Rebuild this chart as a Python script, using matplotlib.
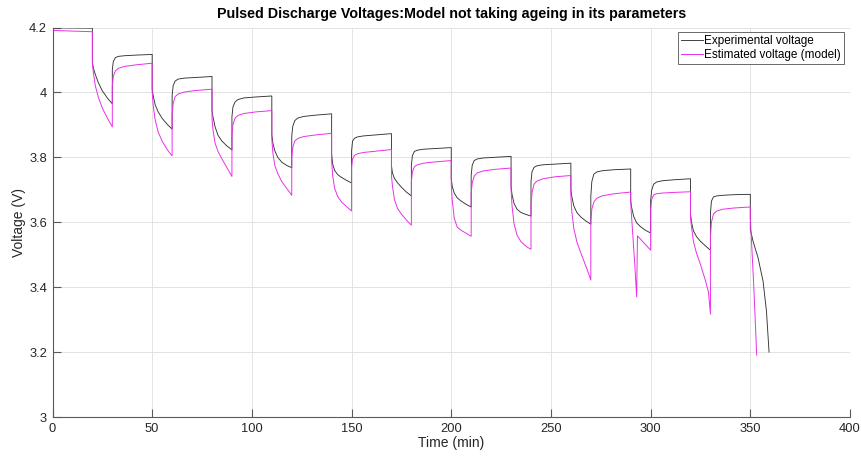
import matplotlib
matplotlib.use("Agg")
import matplotlib.pyplot as plt
from matplotlib.ticker import FuncFormatter

plt.rcParams['font.family'] = ['Liberation Sans', 'DejaVu Sans']

# ---------------- data ----------------
pulse_start = [20, 50, 80, 110, 140, 170, 200, 230, 260, 290, 320, 350]   # min
pulse_len = 10
pulse_off = [0, 0.5, 1.5, 3, 5, 7.5, 9, 10]      # sample times inside a pulse (min)
rest_off = [0, 0.5, 1.5, 3, 6, 12, 20]           # sample times inside a rest (min)

# Experimental voltage
exp_init_t = [0, 20]
exp_init_v = [4.199, 4.198]
exp_pulse_v = [
    [4.093, 4.075, 4.055, 4.030, 4.005, 3.983, 3.972, 3.965],
    [4.010, 3.990, 3.962, 3.940, 3.920, 3.902, 3.893, 3.887],
    [3.945, 3.925, 3.895, 3.868, 3.850, 3.835, 3.828, 3.823],
    [3.870, 3.845, 3.820, 3.800, 3.785, 3.775, 3.771, 3.768],
    [3.810, 3.780, 3.760, 3.747, 3.738, 3.729, 3.724, 3.721],
    [3.775, 3.752, 3.735, 3.722, 3.708, 3.693, 3.686, 3.681],
    [3.735, 3.710, 3.690, 3.675, 3.665, 3.655, 3.650, 3.647],
    [3.710, 3.685, 3.658, 3.640, 3.630, 3.624, 3.621, 3.619],
    [3.700, 3.678, 3.650, 3.630, 3.616, 3.604, 3.598, 3.594],
    [3.665, 3.645, 3.618, 3.598, 3.586, 3.575, 3.570, 3.567],
    [3.625, 3.600, 3.573, 3.556, 3.541, 3.527, 3.519, 3.514],
]
exp_rest_v = [
    [4.070, 4.095, 4.107, 4.111, 4.113, 4.115, 4.117],
    [3.990, 4.020, 4.035, 4.041, 4.044, 4.046, 4.049],
    [3.925, 3.955, 3.970, 3.978, 3.983, 3.986, 3.989],
    [3.865, 3.895, 3.913, 3.921, 3.926, 3.930, 3.934],
    [3.820, 3.850, 3.859, 3.863, 3.866, 3.869, 3.873],
    [3.775, 3.805, 3.818, 3.822, 3.825, 3.827, 3.830],
    [3.745, 3.775, 3.790, 3.795, 3.798, 3.800, 3.803],
    [3.725, 3.755, 3.769, 3.774, 3.777, 3.779, 3.782],
    [3.680, 3.725, 3.748, 3.755, 3.759, 3.762, 3.764],
    [3.665, 3.698, 3.717, 3.724, 3.728, 3.731, 3.734],
    [3.627, 3.665, 3.678, 3.681, 3.683, 3.685, 3.686],
]
exp_last_t = [350, 351.4, 353.9, 356.4, 358.1, 359.4]
exp_last_v = [3.578, 3.541, 3.490, 3.418, 3.326, 3.200]

# Estimated voltage (model)
mod_init_t = [0, 20]
mod_init_v = [4.191, 4.187]
mod_pulse_v = [
    [4.090, 4.060, 4.020, 3.985, 3.952, 3.921, 3.905, 3.894],
    [4.000, 3.960, 3.915, 3.878, 3.850, 3.824, 3.812, 3.805],
    [3.920, 3.885, 3.845, 3.818, 3.795, 3.768, 3.752, 3.741],
    [3.855, 3.815, 3.775, 3.750, 3.725, 3.704, 3.692, 3.683],
    [3.790, 3.745, 3.705, 3.680, 3.662, 3.648, 3.640, 3.635],
    [3.745, 3.712, 3.670, 3.643, 3.625, 3.607, 3.597, 3.591],
    [3.715, 3.668, 3.612, 3.585, 3.575, 3.566, 3.560, 3.557],
    [3.700, 3.650, 3.595, 3.560, 3.540, 3.526, 3.520, 3.517],
    [3.680, 3.630, 3.580, 3.540, 3.505, 3.465, 3.440, 3.422],
    None,
    [3.615, 3.585, 3.540, 3.505, 3.470, 3.420, 3.385, 3.317],
]
mod_pulse10_off = [0, 0.2, 1.2, 2.1, 3.0, 3.4, 10]
mod_pulse10_v = [3.680, 3.640, 3.550, 3.465, 3.370, 3.558, 3.514]
mod_rest_v = [
    [4.020, 4.050, 4.066, 4.074, 4.080, 4.085, 4.090],
    [3.930, 3.965, 3.987, 3.995, 4.001, 4.006, 4.010],
    [3.865, 3.900, 3.920, 3.929, 3.935, 3.940, 3.944],
    [3.800, 3.830, 3.850, 3.858, 3.864, 3.869, 3.874],
    [3.770, 3.795, 3.806, 3.811, 3.815, 3.819, 3.824],
    [3.725, 3.755, 3.771, 3.777, 3.782, 3.786, 3.790],
    [3.690, 3.720, 3.742, 3.752, 3.758, 3.763, 3.767],
    [3.655, 3.690, 3.717, 3.727, 3.734, 3.740, 3.744],
    [3.600, 3.640, 3.662, 3.674, 3.682, 3.688, 3.693],
    [3.640, 3.670, 3.684, 3.688, 3.690, 3.692, 3.694],
    [3.555, 3.600, 3.625, 3.634, 3.640, 3.644, 3.647],
]
mod_last_t = [350, 351.8, 353.2]
mod_last_v = [3.615, 3.395, 3.191]

x_ticks = [0, 50, 100, 150, 200, 250, 300, 350, 400]
y_ticks = [3.0, 3.2, 3.4, 3.6, 3.8, 4.0, 4.2]


def build(init_t, init_v, pulses, rests, last_t, last_v, special=None):
    t = list(init_t)
    v = list(init_v)
    for k, s in enumerate(pulse_start[:-1]):
        if pulses[k] is None:
            offs, vals = special
        else:
            offs, vals = pulse_off, pulses[k]
        t += [s + o for o in offs]
        v += list(vals)
        e = s + pulse_len
        t += [e + o for o in rest_off]
        v += list(rests[k])
    t += list(last_t)
    v += list(last_v)
    return t, v


exp_t, exp_v = build(exp_init_t, exp_init_v, exp_pulse_v, exp_rest_v,
                     exp_last_t, exp_last_v)
mod_t, mod_v = build(mod_init_t, mod_init_v, mod_pulse_v, mod_rest_v,
                     mod_last_t, mod_last_v,
                     special=(mod_pulse10_off, mod_pulse10_v))

# ---------------- figure ----------------
W, H = 861, 457
fig = plt.figure(figsize=(W / 100, H / 100), dpi=100)
ax = fig.add_axes([52.5 / W, 1 - 417 / H, (850 - 52.5) / W, (417 - 27.5) / H])

ax.plot(exp_t, exp_v, color='#333333', lw=0.65, label='Experimental voltage')
ax.plot(mod_t, mod_v, color='#ea2fea', lw=0.7, label='Estimated voltage (model)')

ax.set_xlim(0, 400)
ax.set_ylim(3.0, 4.2)
ax.set_xticks(x_ticks)
ax.set_yticks(y_ticks)
ax.yaxis.set_major_formatter(FuncFormatter(lambda x, p: f'{x:g}'))

ax.grid(True, color='#e3e3e3', lw=0.7)
ax.set_axisbelow(True)
for side in ['top', 'right']:
    ax.spines[side].set_visible(False)
for side in ['left', 'bottom']:
    ax.spines[side].set_color('#5a5a5a')
    ax.spines[side].set_linewidth(0.8)
ax.tick_params(direction='in', length=5.5, width=0.8, color='#5a5a5a',
               labelsize=9.3, labelcolor='#262626', pad=4)

ax.set_xlabel('Time (min)', fontsize=10, color='#262626', labelpad=1)
ax.set_ylabel('Voltage (V)', fontsize=10, color='#262626', labelpad=2)
ax.set_title('Pulsed Discharge Voltages:Model not taking ageing in its parameters',
             fontsize=10.3, fontweight='bold', color='#000000', pad=7)

leg = ax.legend(loc='upper right', bbox_to_anchor=(0.9925, 0.988), borderaxespad=0,
                fontsize=8.5, frameon=True, fancybox=False, edgecolor='#262626',
                handlelength=1.9, handletextpad=0.1, borderpad=0.25,
                labelspacing=0.15)
leg.get_frame().set_linewidth(0.6)

fig.savefig('out.png', dpi=100)
